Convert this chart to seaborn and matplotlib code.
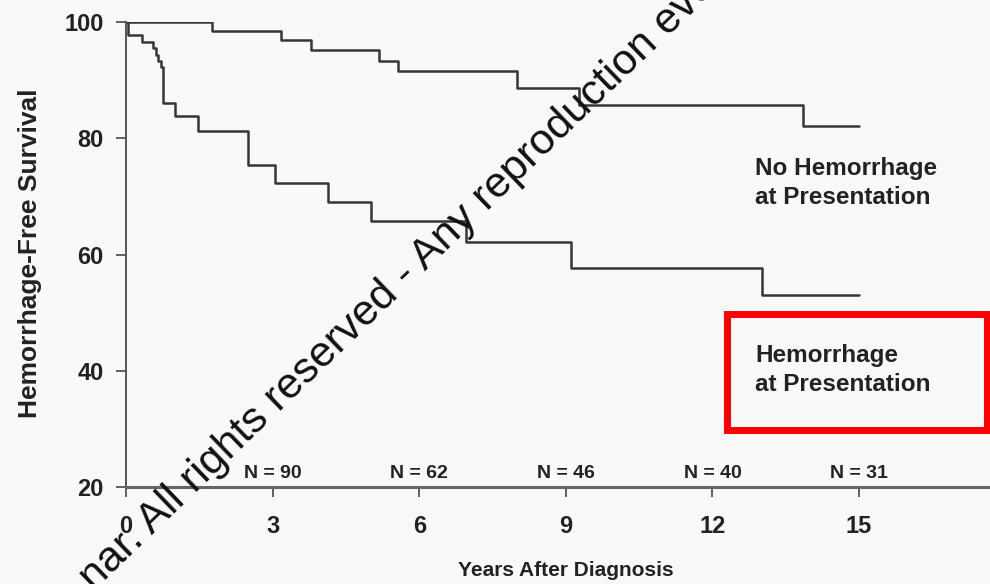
import matplotlib
matplotlib.use("Agg")
import numpy as np
import pandas as pd
import matplotlib.pyplot as plt
import seaborn as sns
from matplotlib import font_manager as fm
from matplotlib.patches import Rectangle

# ---- data ----
years_no_hem = [0, 1.76, 3.18, 3.79, 5.18, 5.57, 8.01, 9.27, 13.85, 15.0]
surv_no_hem = [100, 98.5, 96.9, 95.2, 93.3, 91.6, 88.7, 85.7, 82.1, 82.1]

years_hem = [0, 0.05, 0.32, 0.56, 0.61, 0.66, 0.71, 0.76, 1.0, 1.47, 2.49,
             3.05, 4.14, 5.01, 6.96, 9.10, 13.02, 15.0]
surv_hem = [100, 97.8, 96.6, 95.5, 94.4, 93.3, 92.3, 86.0, 83.8, 81.2, 75.4,
            72.3, 69.1, 65.8, 62.1, 57.6, 53.1, 53.1]

group_names = ["No Hemorrhage\nat Presentation", "Hemorrhage\nat Presentation"]
x_ticks = [0, 3, 6, 9, 12, 15]
y_ticks = [20, 40, 60, 80, 100]
n_years = [3, 6, 9, 12, 15]
n_at_risk = [90, 62, 46, 40, 31]
watermark = "nar. All rights reserved - Any reproduction eve"

sns.set_theme(style="white")
plt.rcParams["font.family"] = ["Liberation Sans", "DejaVu Sans"]
names = {f.name for f in fm.fontManager.ttflist}
narrow = "Liberation Sans Narrow" if "Liberation Sans Narrow" in names else "Liberation Sans"

BG = "#f9f9f9"
INK = "#222222"
W, H = 990, 584
x0px, x15px = 126, 859
ytop, ybot = 22, 487
px_per_year = (x15px - x0px) / 15.0

fig = plt.figure(figsize=(9.9, 5.84), dpi=100, facecolor=BG)
ax = fig.add_axes([x0px / W, 1 - ybot / H, 1 - x0px / W, (ybot - ytop) / H])
ax.set_facecolor(BG)

df = pd.concat([
    pd.DataFrame({"years": years_no_hem, "survival": surv_no_hem, "group": group_names[0]}),
    pd.DataFrame({"years": years_hem, "survival": surv_hem, "group": group_names[1]}),
])
sns.lineplot(data=df, x="years", y="survival", hue="group", estimator=None,
             sort=False, palette={g: "#363636" for g in group_names},
             legend=False, drawstyle="steps-post", linewidth=1.8, ax=ax)

ax.set_xlim(0, (W - x0px) / px_per_year)
ax.set_ylim(20, 100)
ax.set_xticks(x_ticks)
ax.set_yticks(y_ticks)
for s in ("top", "right"):
    ax.spines[s].set_visible(False)
ax.spines["left"].set_bounds(20, 100)
ax.spines["left"].set_color("#555555")
ax.spines["left"].set_linewidth(1.4)
ax.spines["bottom"].set_color("#666666")
ax.spines["bottom"].set_linewidth(2.2)
ax.tick_params(axis="x", direction="out", length=7, width=1.3, color="#555555",
               labelsize=17, pad=13, labelcolor=INK, bottom=True)
ax.tick_params(axis="y", direction="out", length=7, width=1.3, color="#555555",
               labelsize=17, pad=9, labelcolor=INK, left=True)
for lbl in ax.get_xticklabels() + ax.get_yticklabels():
    lbl.set_fontweight("bold")

ax.set_xlabel("Years After Diagnosis", fontsize=15, fontweight="bold", color=INK, va="top")
ax.xaxis.set_label_coords((566 - x0px) / (W - x0px), -(561 - ybot) / (ybot - ytop))
ax.set_ylabel("Hemorrhage-Free Survival", fontsize=19, fontweight="bold", color=INK, va="center")
ax.yaxis.set_label_coords((30 - x0px) / (W - x0px), (ybot - 253) / (ybot - ytop))

def xd(px):
    return (px - x0px) / px_per_year

def yd(py):
    return 100 - (py - ytop) * 80.0 / (ybot - ytop)

# group labels
ax.text(xd(755), yd(157), group_names[0], ha="left", va="top", fontsize=17.5,
        fontweight="bold", color=INK, linespacing=1.33)
ax.text(xd(755), yd(344), group_names[1], ha="left", va="top", fontsize=17.5,
        fontweight="bold", color=INK, linespacing=1.33)

# red highlight box
rect = Rectangle((xd(727), yd(429.5)), xd(987) - xd(727), yd(313.5) - yd(429.5),
                 fill=False, edgecolor="#ff0000", linewidth=5, clip_on=False, zorder=5)
ax.add_patch(rect)

# numbers at risk
for yr, n in zip(n_years, n_at_risk):
    ax.text(yr, 20.9, f"N = {n}", ha="center", va="bottom", fontsize=14,
            fontweight="bold", color=INK, family=narrow)

# diagonal watermark
fig.text(94 / W, 1 - 592 / H, watermark, rotation=44, rotation_mode="anchor",
         ha="left", va="baseline", fontsize=31, color="#111111")

fig.savefig("out.png", dpi=100, facecolor=BG)
